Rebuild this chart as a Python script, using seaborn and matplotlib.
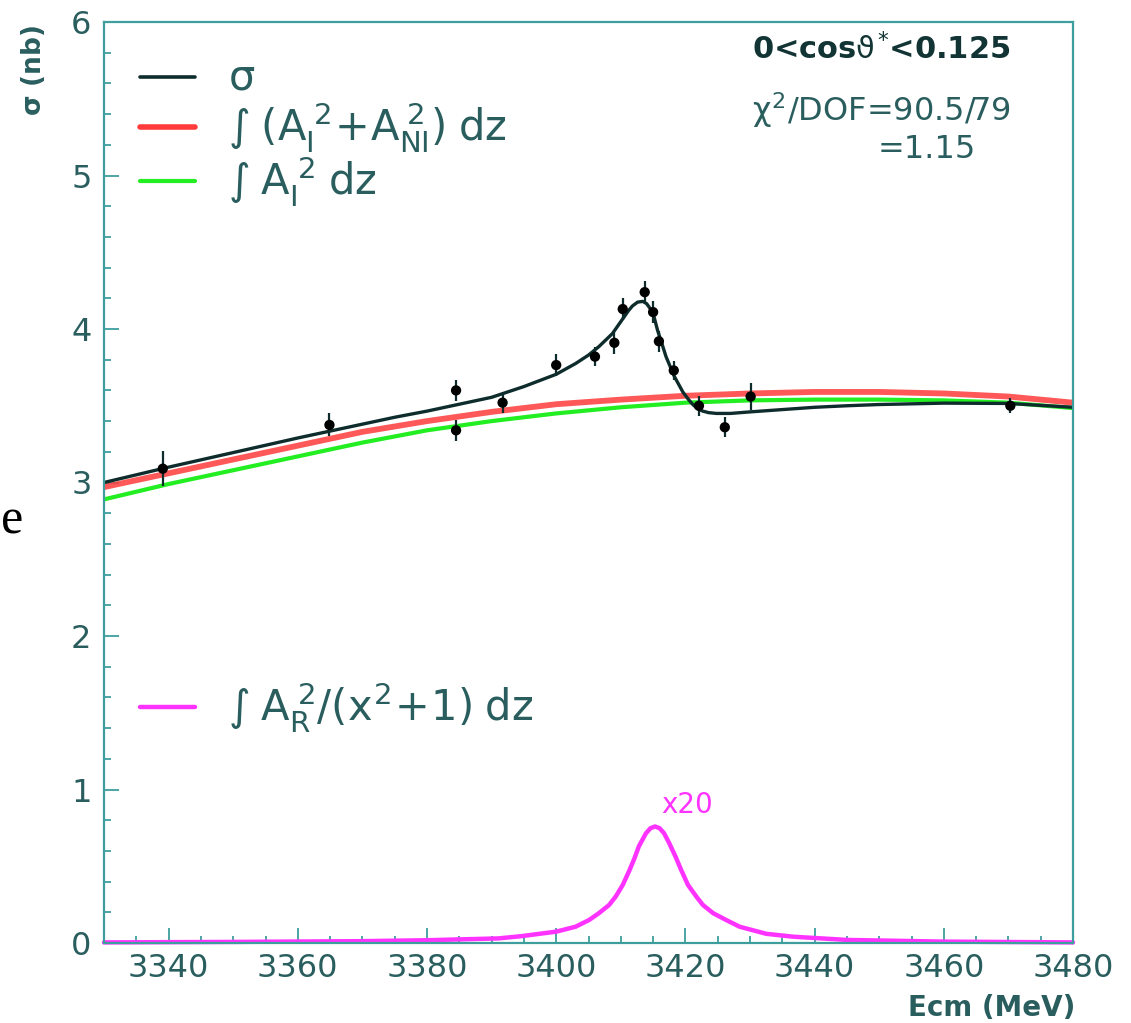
import matplotlib
matplotlib.use("Agg")
import matplotlib.pyplot as plt
import seaborn as sns
import pandas as pd
from matplotlib.ticker import MultipleLocator

# ---------------- data ----------------
sigma_x = [3330, 3340, 3350, 3360, 3370, 3375, 3380, 3385, 3390, 3395, 3400, 3403, 3405,
           3406.6, 3408.7, 3410.2, 3411.2, 3411.8, 3412.6, 3413.4, 3414.0, 3414.6, 3415.2,
           3415.7, 3416.4, 3417.0, 3418.3, 3419.6, 3420.4, 3421.1, 3421.9, 3422.7, 3423.6,
           3424.8, 3427, 3430, 3435, 3440, 3445, 3450, 3460, 3470, 3480]
sigma_y = [3.00, 3.10, 3.195, 3.29, 3.38, 3.425, 3.465, 3.51, 3.555, 3.625, 3.705, 3.775, 3.83,
           3.885, 3.97, 4.06, 4.12, 4.15, 4.175, 4.18, 4.165, 4.13, 4.07,
           3.99, 3.90, 3.82, 3.69, 3.59, 3.545, 3.51, 3.48, 3.465, 3.455,
           3.45, 3.45, 3.46, 3.475, 3.49, 3.50, 3.508, 3.517, 3.515, 3.49]

red_x = [3330, 3340, 3350, 3360, 3370, 3380, 3390, 3400, 3410, 3420, 3430, 3440, 3450, 3460, 3470, 3480]
red_y = [2.97, 3.06, 3.15, 3.24, 3.33, 3.40, 3.46, 3.51, 3.54, 3.565, 3.58, 3.59, 3.59, 3.58, 3.56, 3.52]

green_x = [3330, 3340, 3350, 3360, 3370, 3380, 3390, 3400, 3410, 3420, 3430, 3440, 3450, 3460, 3470, 3480]
green_y = [2.89, 2.99, 3.08, 3.17, 3.26, 3.34, 3.40, 3.45, 3.49, 3.52, 3.535, 3.54, 3.54, 3.535, 3.52, 3.485]

mag_x = [3330, 3350, 3370, 3380, 3391.1, 3394.7, 3400.0, 3403.0, 3405.1, 3406.6, 3408.2,
         3409.2, 3410.3, 3411.3, 3412.1, 3412.8, 3413.9, 3414.6, 3415.3, 3416.0, 3416.7,
         3417.5, 3418.5, 3419.3, 3420.4, 3421.7, 3422.7, 3424.3, 3426.3, 3428.4, 3432.5,
         3436.7, 3445, 3460, 3480]
mag_y = [0.004, 0.007, 0.012, 0.018, 0.030, 0.045, 0.074, 0.106, 0.150, 0.194, 0.248,
         0.302, 0.378, 0.470, 0.550, 0.630, 0.715, 0.748, 0.759, 0.748, 0.715,
         0.650, 0.560, 0.480, 0.378, 0.302, 0.248, 0.194, 0.150, 0.106, 0.060,
         0.041, 0.020, 0.009, 0.004]

pts_x = [3339.1, 3364.9, 3384.5, 3384.5, 3391.7, 3400.0, 3406.0, 3409.0, 3410.3,
         3413.7, 3415.0, 3415.9, 3418.2, 3422.1, 3426.1, 3430.1, 3470.3]
pts_y = [3.09, 3.375, 3.34, 3.60, 3.52, 3.765, 3.82, 3.91, 4.13,
         4.24, 4.11, 3.92, 3.73, 3.50, 3.36, 3.56, 3.50]
pts_err = [0.115, 0.075, 0.07, 0.07, 0.07, 0.07, 0.06, 0.07, 0.07,
           0.07, 0.07, 0.07, 0.06, 0.065, 0.065, 0.085, 0.05]

x_ticks = [3340, 3360, 3380, 3400, 3420, 3440, 3460, 3480]
y_ticks = [0, 1, 2, 3, 4, 5, 6]

# ---------------- style ----------------
sns.set_style("white")
plt.rcParams['font.family'] = ['DejaVu Sans']
plt.rcParams['mathtext.fontset'] = 'custom'
plt.rcParams['mathtext.rm'] = 'DejaVu Sans'
plt.rcParams['mathtext.it'] = 'DejaVu Sans'
plt.rcParams['mathtext.bf'] = 'DejaVu Sans:bold'

TXT = '#2a5e5e'
SPINE = '#3e9e9e'
BLACK = '#0e2c2c'
RED = '#ff3b3b'
GREEN = '#22ee22'
MAG = '#ff33ff'

fig = plt.figure(figsize=(11.31, 10.23), dpi=100)
ax = fig.add_axes([104/1131, 1-943/1023, 969/1131, 921/1023])

df_red = pd.DataFrame({'x': red_x, 'y': red_y})
df_green = pd.DataFrame({'x': green_x, 'y': green_y})
df_sig = pd.DataFrame({'x': sigma_x, 'y': sigma_y})
df_mag = pd.DataFrame({'x': mag_x, 'y': mag_y})
df_pts = pd.DataFrame({'x': pts_x, 'y': pts_y, 'e': pts_err})

sns.lineplot(data=df_red, x='x', y='y', ax=ax, color=RED, lw=4.2, alpha=0.85, estimator=None)
sns.lineplot(data=df_green, x='x', y='y', ax=ax, color=GREEN, lw=3.0, estimator=None)
sns.lineplot(data=df_sig, x='x', y='y', ax=ax, color=BLACK, lw=2.4, estimator=None)
sns.lineplot(data=df_mag, x='x', y='y', ax=ax, color=MAG, lw=3.2, estimator=None, clip_on=False)

ax.errorbar(df_pts['x'], df_pts['y'], yerr=df_pts['e'], fmt='none', ecolor=BLACK,
            elinewidth=1.6, capsize=0, zorder=5)
sns.scatterplot(data=df_pts, x='x', y='y', ax=ax, color='black', s=55, edgecolor='none', zorder=6)

ax.set_xlim(3330, 3480)
ax.set_ylim(0, 6)
ax.set_xticks(x_ticks)
ax.set_yticks(y_ticks)
ax.xaxis.set_minor_locator(MultipleLocator(5))
ax.yaxis.set_minor_locator(MultipleLocator(0.2))
ax.tick_params(axis='both', which='major', direction='in', length=10.5, width=1.3,
               color=SPINE, labelcolor=TXT, labelsize=23, top=False, right=False,
               left=True, bottom=True)
ax.tick_params(axis='both', which='minor', direction='in', length=5, width=1.3,
               color=SPINE, top=False, right=False, left=True, bottom=True)
ax.tick_params(axis='x', which='major', pad=7)
ax.tick_params(axis='y', which='major', pad=9)
for s in ax.spines.values():
    s.set_color(SPINE)
    s.set_linewidth(1.6)
ax.set_xlabel('')
ax.set_ylabel('')

# axis titles
fig.text(1075/1131, 1-1008/1023, 'Ecm (MeV)', ha='right', va='center', fontsize=20,
         fontweight='bold', color=TXT)
fig.text(33/1131, 1-70/1023, r'$\mathbf{\sigma}$ (nb)', rotation=90, ha='center', va='center',
         fontsize=19, fontweight='bold', color=TXT)

# legend (drawn manually)
def leg(y, color, label, x0=0.037, x1=0.094, lw=3.0):
    ax.plot([x0, x1], [y, y], transform=ax.transAxes, color=color, lw=lw, clip_on=False)
    ax.text(0.128, y, label, transform=ax.transAxes, ha='left', va='center',
            fontsize=30, color=TXT)

leg(0.940, BLACK, r'$\sigma$', lw=2.6)
leg(0.886, RED, r'$\int\;(A_{I}^{\,2}\!+\!A_{NI}^{\,2})\;dz$', lw=4)
leg(0.827, GREEN, r'$\int\;A_{I}^{\,2}\;dz$', lw=3)
leg(0.256, MAG, r'$\int\;A_{R}^{\,2}/(x^{2}\!+\!1)\;dz$', lw=3.2)

# annotations
fig.text(752/1131, 1-49/1023, r'0<cos$\vartheta^{*}$<0.125',
         ha='left', va='center', fontsize=22, fontweight='bold', color='#123434')
fig.text(752/1131, 1-110/1023, r'$\chi^{2}$/DOF=90.5/79',
         ha='left', va='center', fontsize=23, color=TXT)
fig.text(878/1131, 1-150/1023, '=1.15',
         ha='left', va='center', fontsize=23, color=TXT)
ax.text(3420.3, 0.90, 'x20', ha='center', va='center', fontsize=20, color=MAG)

# stray glyph at left edge of the scanned page
fig.text(0.001, 1-533/1023, 'e', ha='left', va='baseline', fontsize=36,
         family='Liberation Serif', color='black')

fig.savefig('out.png', dpi=100)
